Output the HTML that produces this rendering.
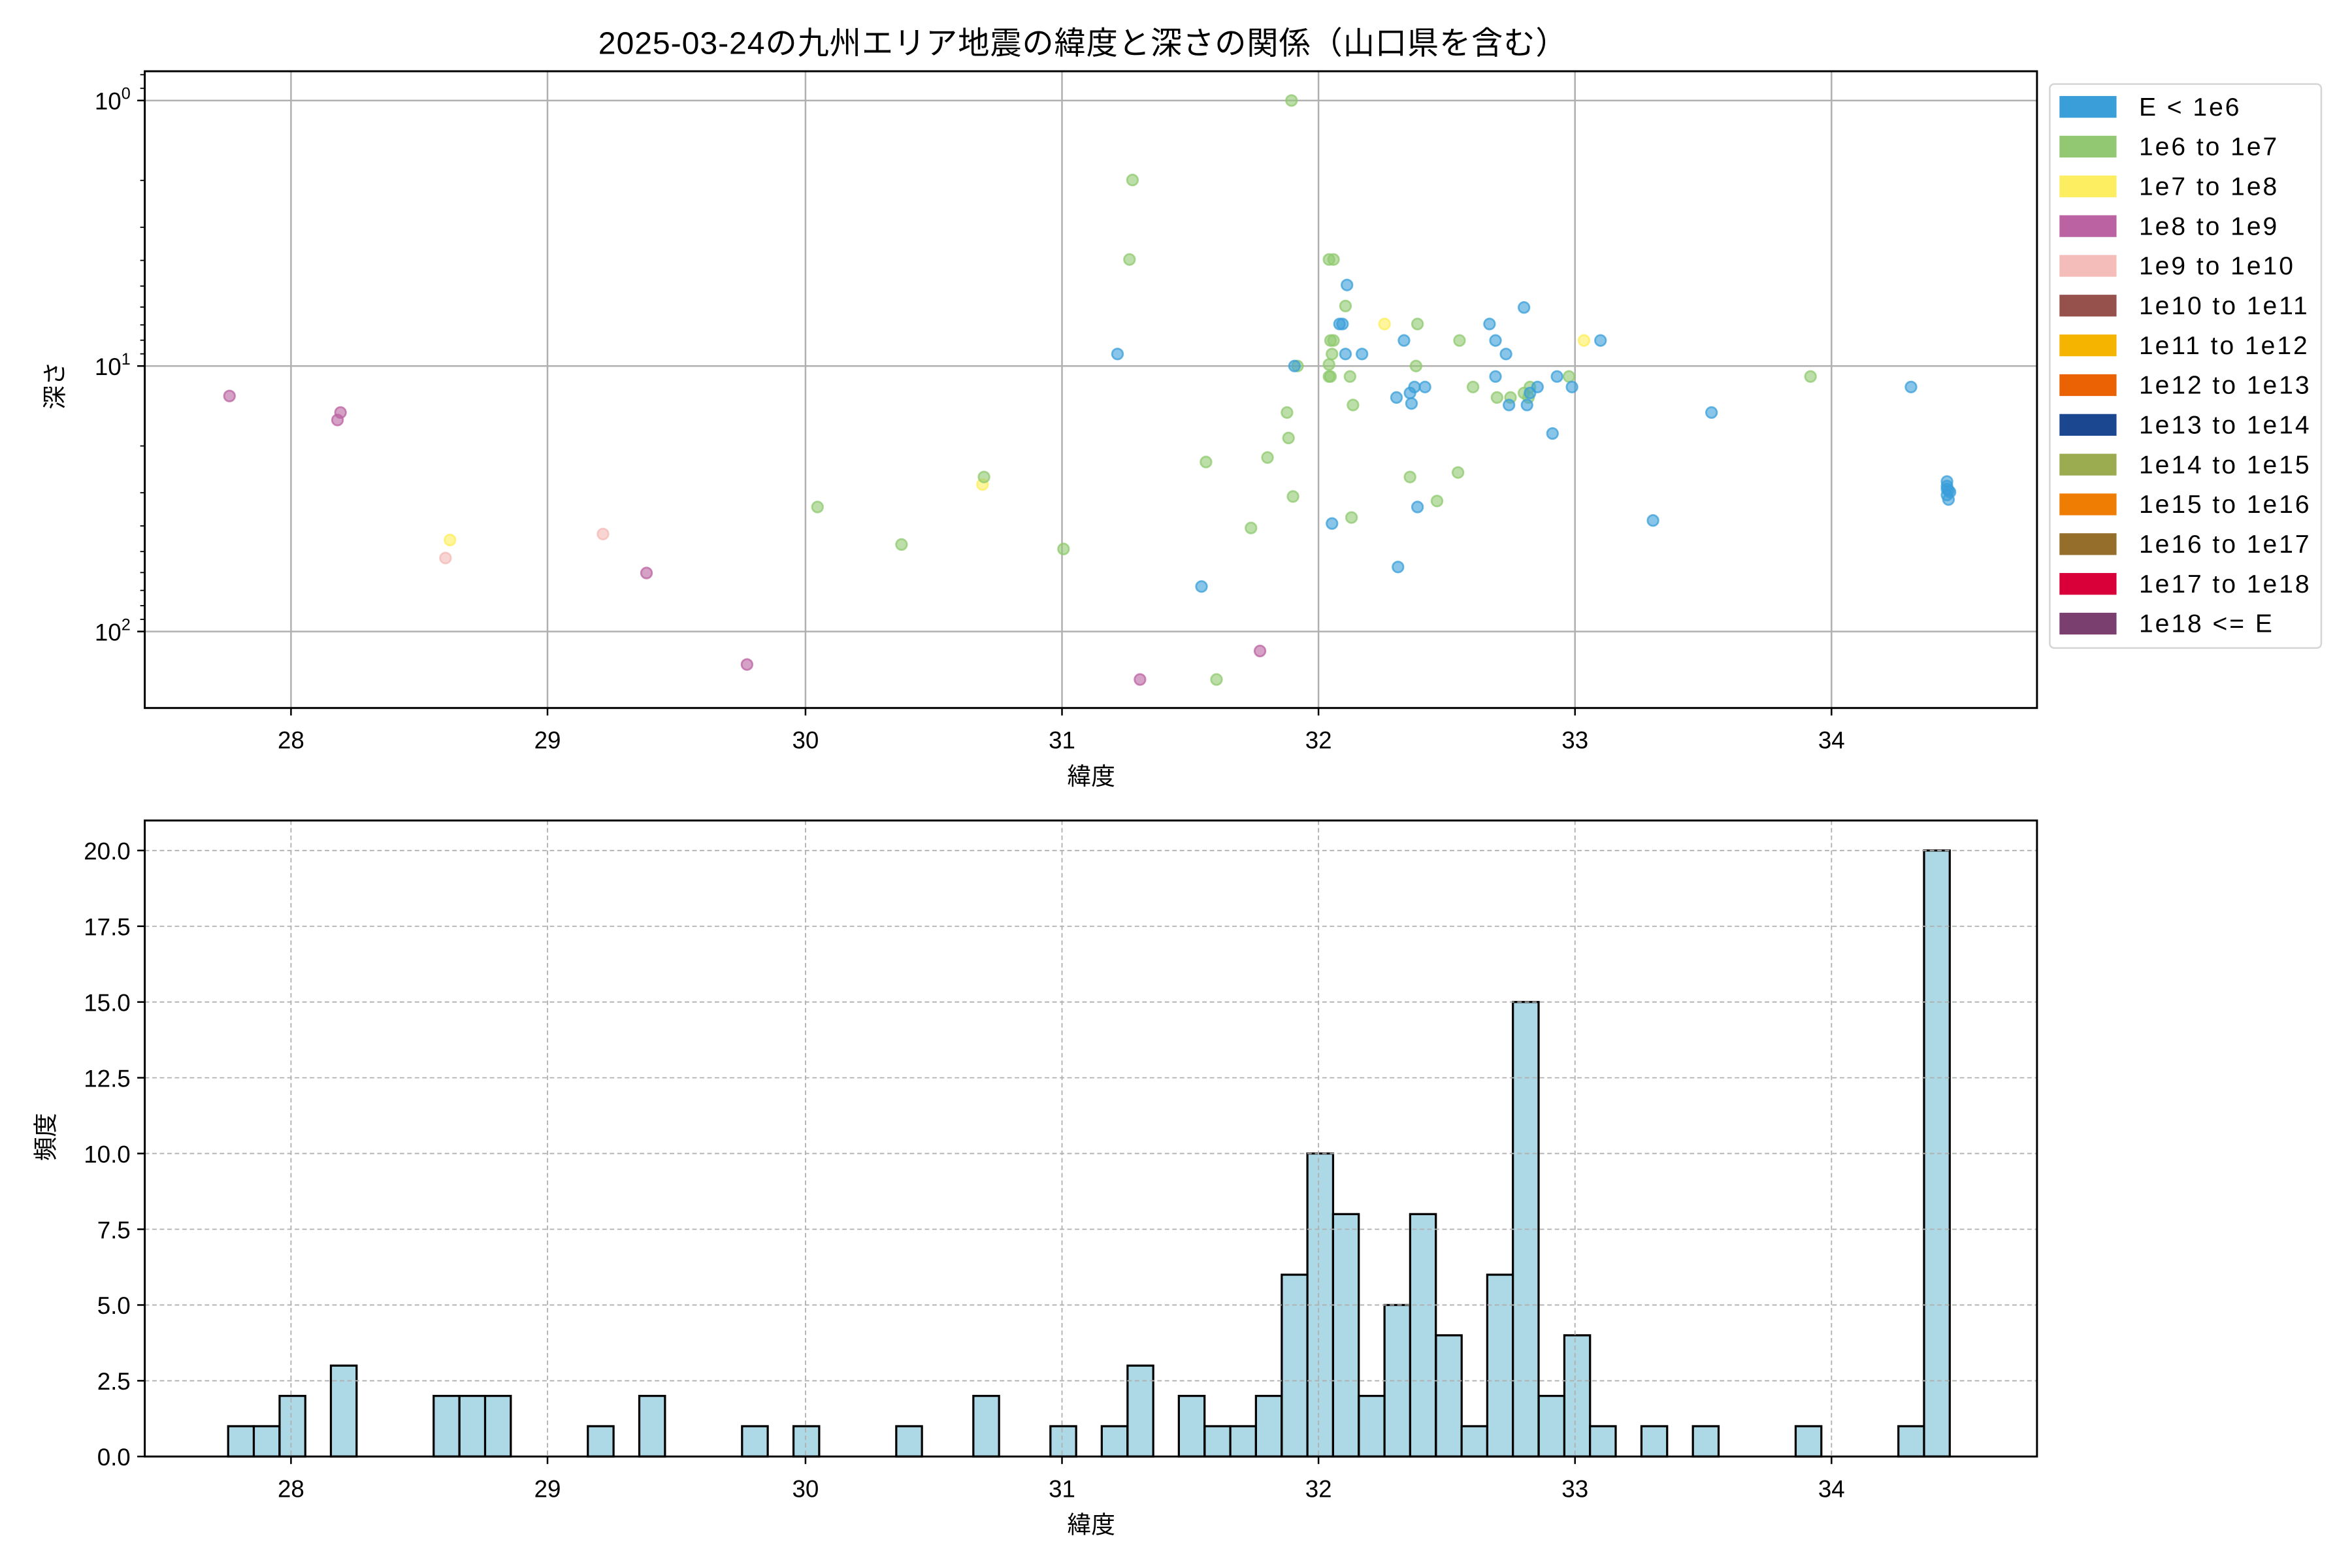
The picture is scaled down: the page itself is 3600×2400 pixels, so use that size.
<!DOCTYPE html>
<html><head><meta charset="utf-8"><style>html,body{margin:0;padding:0;background:#fff}svg{display:block}text{font-family:"Liberation Sans","Noto Sans CJK JP",sans-serif;fill:#000}</style></head><body>
<svg width="3600" height="2400" viewBox="0 0 1568 1045.33" xmlns="http://www.w3.org/2000/svg">
<rect width="1568" height="1045.33" fill="#fff"/>
<text x="722" y="36" font-size="21" text-anchor="middle" letter-spacing="0.4">2025-03-24の九州エリア地震の緯度と深さの関係（山口県を含む）</text>
<!-- top grid -->
<g stroke="#b0b0b0" stroke-width="1.1">
<line x1="194" y1="47.5" x2="194" y2="472"/><line x1="365" y1="47.5" x2="365" y2="472"/><line x1="537" y1="47.5" x2="537" y2="472"/><line x1="708" y1="47.5" x2="708" y2="472"/><line x1="879" y1="47.5" x2="879" y2="472"/><line x1="1050" y1="47.5" x2="1050" y2="472"/><line x1="1221" y1="47.5" x2="1221" y2="472"/>
<line x1="96.5" y1="67" x2="1358" y2="67"/><line x1="96.5" y1="244" x2="1358" y2="244"/><line x1="96.5" y1="421" x2="1358" y2="421"/>
</g>
<!-- points -->
<g stroke-width="1.2" fill-opacity="0.6" stroke-opacity="0.75">
<g fill="#bb63a2" stroke="#bb63a2"><circle cx="153" cy="264" r="3.6"/><circle cx="225" cy="280" r="3.6"/><circle cx="227" cy="275" r="3.6"/><circle cx="431" cy="382" r="3.6"/><circle cx="498" cy="443" r="3.6"/><circle cx="760" cy="453" r="3.6"/><circle cx="840" cy="434" r="3.6"/></g>
<g fill="#f4b9b5" stroke="#f4b9b5"><circle cx="297" cy="372" r="3.6"/><circle cx="402" cy="356" r="3.6"/></g>
<g fill="#fdee5a" stroke="#fdee5a"><circle cx="300" cy="360" r="3.6"/><circle cx="655" cy="323" r="3.6"/><circle cx="923" cy="216" r="3.6"/><circle cx="1056" cy="227" r="3.6"/></g>
<g fill="#8fc96f" stroke="#8fc96f"><circle cx="755" cy="120" r="3.6"/><circle cx="753" cy="173" r="3.6"/><circle cx="861" cy="67" r="3.6"/><circle cx="656" cy="318" r="3.6"/><circle cx="545" cy="338" r="3.6"/><circle cx="601" cy="363" r="3.6"/><circle cx="709" cy="366" r="3.6"/><circle cx="804" cy="308" r="3.6"/><circle cx="834" cy="352" r="3.6"/><circle cx="845" cy="305" r="3.6"/><circle cx="858" cy="275" r="3.6"/><circle cx="859" cy="292" r="3.6"/><circle cx="862" cy="331" r="3.6"/><circle cx="811" cy="453" r="3.6"/><circle cx="886" cy="173" r="3.6"/><circle cx="889" cy="173" r="3.6"/><circle cx="897" cy="204" r="3.6"/><circle cx="887" cy="227" r="3.6"/><circle cx="889" cy="227" r="3.6"/><circle cx="888" cy="236" r="3.6"/><circle cx="886" cy="243" r="3.6"/><circle cx="886" cy="251" r="3.6"/><circle cx="887" cy="251" r="3.6"/><circle cx="900" cy="251" r="3.6"/><circle cx="902" cy="270" r="3.6"/><circle cx="901" cy="345" r="3.6"/><circle cx="945" cy="216" r="3.6"/><circle cx="944" cy="244" r="3.6"/><circle cx="973" cy="227" r="3.6"/><circle cx="1007" cy="265" r="3.6"/><circle cx="998" cy="265" r="3.6"/><circle cx="982" cy="258" r="3.6"/><circle cx="958" cy="334" r="3.6"/><circle cx="940" cy="318" r="3.6"/><circle cx="972" cy="315" r="3.6"/><circle cx="1019" cy="265" r="3.6"/><circle cx="1020" cy="258" r="3.6"/><circle cx="1046" cy="251" r="3.6"/><circle cx="1207" cy="251" r="3.6"/><circle cx="865" cy="244" r="3.6"/><circle cx="1016" cy="262" r="3.6"/></g>
<g fill="#3a9fd9" stroke="#3a9fd9"><circle cx="745" cy="236" r="3.6"/><circle cx="898" cy="190" r="3.6"/><circle cx="893" cy="216" r="3.6"/><circle cx="895" cy="216" r="3.6"/><circle cx="897" cy="236" r="3.6"/><circle cx="908" cy="236" r="3.6"/><circle cx="936" cy="227" r="3.6"/><circle cx="931" cy="265" r="3.6"/><circle cx="941" cy="269" r="3.6"/><circle cx="940" cy="262" r="3.6"/><circle cx="943" cy="258" r="3.6"/><circle cx="950" cy="258" r="3.6"/><circle cx="945" cy="338" r="3.6"/><circle cx="932" cy="378" r="3.6"/><circle cx="888" cy="349" r="3.6"/><circle cx="801" cy="391" r="3.6"/><circle cx="993" cy="216" r="3.6"/><circle cx="997" cy="227" r="3.6"/><circle cx="1004" cy="236" r="3.6"/><circle cx="1016" cy="205" r="3.6"/><circle cx="997" cy="251" r="3.6"/><circle cx="1006" cy="270" r="3.6"/><circle cx="1018" cy="270" r="3.6"/><circle cx="1020" cy="262" r="3.6"/><circle cx="1025" cy="258" r="3.6"/><circle cx="1038" cy="251" r="3.6"/><circle cx="1048" cy="258" r="3.6"/><circle cx="1035" cy="289" r="3.6"/><circle cx="1067" cy="227" r="3.6"/><circle cx="1102" cy="347" r="3.6"/><circle cx="1141" cy="275" r="3.6"/><circle cx="1274" cy="258" r="3.6"/><circle cx="863" cy="244" r="3.6"/>
<circle cx="1298" cy="321" r="3.6"/><circle cx="1298" cy="324" r="3.6"/><circle cx="1299" cy="327" r="3.6"/><circle cx="1298" cy="330" r="3.6"/><circle cx="1300" cy="328" r="3.6"/><circle cx="1299" cy="333" r="3.6"/><circle cx="1298" cy="326" r="3.6"/></g>
</g>
<!-- top axes frame -->
<rect x="96.5" y="47.5" width="1261.5" height="424.5" fill="none" stroke="#000" stroke-width="1.3"/>
<g stroke="#000" stroke-width="1.1">
<line x1="194" y1="472" x2="194" y2="477"/><line x1="365" y1="472" x2="365" y2="477"/><line x1="537" y1="472" x2="537" y2="477"/><line x1="708" y1="472" x2="708" y2="477"/><line x1="879" y1="472" x2="879" y2="477"/><line x1="1050" y1="472" x2="1050" y2="477"/><line x1="1221" y1="472" x2="1221" y2="477"/>
<line x1="91.5" y1="67" x2="96.5" y2="67"/><line x1="91.5" y1="244" x2="96.5" y2="244"/><line x1="91.5" y1="421" x2="96.5" y2="421"/>
</g>
<g stroke="#000" stroke-width="0.8">
<line x1="93.5" y1="49.8" x2="96.5" y2="49.8"/><line x1="93.5" y1="58.9" x2="96.5" y2="58.9"/>
<line x1="93.5" y1="120.3" x2="96.5" y2="120.3"/><line x1="93.5" y1="151.5" x2="96.5" y2="151.5"/><line x1="93.5" y1="173.6" x2="96.5" y2="173.6"/><line x1="93.5" y1="190.7" x2="96.5" y2="190.7"/><line x1="93.5" y1="204.7" x2="96.5" y2="204.7"/><line x1="93.5" y1="216.6" x2="96.5" y2="216.6"/><line x1="93.5" y1="226.8" x2="96.5" y2="226.8"/><line x1="93.5" y1="235.9" x2="96.5" y2="235.9"/>
<line x1="93.5" y1="297.3" x2="96.5" y2="297.3"/><line x1="93.5" y1="328.5" x2="96.5" y2="328.5"/><line x1="93.5" y1="350.6" x2="96.5" y2="350.6"/><line x1="93.5" y1="367.7" x2="96.5" y2="367.7"/><line x1="93.5" y1="381.7" x2="96.5" y2="381.7"/><line x1="93.5" y1="393.6" x2="96.5" y2="393.6"/><line x1="93.5" y1="403.8" x2="96.5" y2="403.8"/><line x1="93.5" y1="412.9" x2="96.5" y2="412.9"/>
</g>
<g font-size="16" text-anchor="middle">
<text x="194" y="499">28</text><text x="365" y="499">29</text><text x="537" y="499">30</text><text x="708" y="499">31</text><text x="879" y="499">32</text><text x="1050" y="499">33</text><text x="1221" y="499">34</text>
</g>
<g font-size="16" text-anchor="end">
<text x="87" y="73">10<tspan font-size="11" dy="-7">0</tspan></text>
<text x="87" y="250">10<tspan font-size="11" dy="-7">1</tspan></text>
<text x="87" y="427">10<tspan font-size="11" dy="-7">2</tspan></text>
</g>
<text x="727.5" y="523" font-size="16" text-anchor="middle">緯度</text>
<text transform="translate(42,257) rotate(-90)" font-size="16" text-anchor="middle">深さ</text>
<!-- legend -->
<rect x="1366.5" y="56" width="181" height="376" rx="3" fill="#fff" stroke="#d5d5d5" stroke-width="1.1"/>
<g>
<rect x="1373" y="64" width="38" height="14.5" fill="#3a9fd9"/>
<rect x="1373" y="90.5" width="38" height="14.5" fill="#93c873"/>
<rect x="1373" y="117" width="38" height="14.5" fill="#fdee61"/>
<rect x="1373" y="143.5" width="38" height="14.5" fill="#bb63a2"/>
<rect x="1373" y="170" width="38" height="14.5" fill="#f4bdba"/>
<rect x="1373" y="196.5" width="38" height="14.5" fill="#96514d"/>
<rect x="1373" y="223" width="38" height="14.5" fill="#f5b400"/>
<rect x="1373" y="249.5" width="38" height="14.5" fill="#ea6204"/>
<rect x="1373" y="276" width="38" height="14.5" fill="#1b4791"/>
<rect x="1373" y="302.5" width="38" height="14.5" fill="#9bab50"/>
<rect x="1373" y="329" width="38" height="14.5" fill="#ef7d03"/>
<rect x="1373" y="355.5" width="38" height="14.5" fill="#956e2c"/>
<rect x="1373" y="382" width="38" height="14.5" fill="#d9003a"/>
<rect x="1373" y="408.5" width="38" height="14.5" fill="#7a3f6f"/>
</g>
<g font-size="17" letter-spacing="1.3">
<text x="1426" y="77">E &lt; 1e6</text><text x="1426" y="103.5">1e6 to 1e7</text><text x="1426" y="130">1e7 to 1e8</text><text x="1426" y="156.5">1e8 to 1e9</text><text x="1426" y="183">1e9 to 1e10</text><text x="1426" y="209.5">1e10 to 1e11</text><text x="1426" y="236">1e11 to 1e12</text><text x="1426" y="262.5">1e12 to 1e13</text><text x="1426" y="289">1e13 to 1e14</text><text x="1426" y="315.5">1e14 to 1e15</text><text x="1426" y="342">1e15 to 1e16</text><text x="1426" y="368.5">1e16 to 1e17</text><text x="1426" y="395">1e17 to 1e18</text><text x="1426" y="421.5">1e18 &lt;= E</text>
</g>
<!-- histogram bars -->
<g fill="#add8e6" stroke="#000" stroke-width="1.4">
<rect x="152.1" y="950.8" width="17.13" height="20.2"/><rect x="169.2" y="950.8" width="17.13" height="20.2"/><rect x="186.4" y="930.6" width="17.13" height="40.4"/><rect x="220.6" y="910.4" width="17.13" height="60.6"/>
<rect x="289.1" y="930.6" width="17.13" height="40.4"/><rect x="306.3" y="930.6" width="17.13" height="40.4"/><rect x="323.4" y="930.6" width="17.13" height="40.4"/>
<rect x="391.9" y="950.8" width="17.13" height="20.2"/><rect x="426.2" y="930.6" width="17.13" height="40.4"/><rect x="494.7" y="950.8" width="17.13" height="20.2"/><rect x="529.0" y="950.8" width="17.13" height="20.2"/><rect x="597.5" y="950.8" width="17.13" height="20.2"/><rect x="648.9" y="930.6" width="17.13" height="40.4"/>
<rect x="700.3" y="950.8" width="17.13" height="20.2"/><rect x="734.5" y="950.8" width="17.13" height="20.2"/><rect x="751.7" y="910.4" width="17.13" height="60.6"/>
<rect x="785.9" y="930.6" width="17.13" height="40.4"/><rect x="803.1" y="950.8" width="17.13" height="20.2"/><rect x="820.2" y="950.8" width="17.13" height="20.2"/><rect x="837.3" y="930.6" width="17.13" height="40.4"/>
<rect x="854.5" y="849.8" width="17.13" height="121.2"/><rect x="871.6" y="769" width="17.13" height="202"/><rect x="888.7" y="809.4" width="17.13" height="161.6"/><rect x="905.9" y="930.6" width="17.13" height="40.4"/>
<rect x="923.0" y="870" width="17.13" height="101"/><rect x="940.1" y="809.4" width="17.13" height="161.6"/><rect x="957.3" y="890.2" width="17.13" height="80.8"/><rect x="974.4" y="950.8" width="17.13" height="20.2"/>
<rect x="991.5" y="849.8" width="17.13" height="121.2"/><rect x="1008.6" y="668" width="17.13" height="303"/><rect x="1025.8" y="930.6" width="17.13" height="40.4"/><rect x="1042.9" y="890.2" width="17.13" height="80.8"/><rect x="1060.0" y="950.8" width="17.13" height="20.2"/>
<rect x="1094.3" y="950.8" width="17.13" height="20.2"/><rect x="1128.6" y="950.8" width="17.13" height="20.2"/><rect x="1197.1" y="950.8" width="17.13" height="20.2"/><rect x="1265.6" y="950.8" width="17.13" height="20.2"/><rect x="1282.7" y="567" width="17.13" height="404"/>
</g>
<!-- histogram grid -->
<g stroke="#b0b0b0" stroke-width="0.8" stroke-dasharray="3,2">
<line x1="194" y1="547" x2="194" y2="971"/><line x1="365" y1="547" x2="365" y2="971"/><line x1="537" y1="547" x2="537" y2="971"/><line x1="708" y1="547" x2="708" y2="971"/><line x1="879" y1="547" x2="879" y2="971"/><line x1="1050" y1="547" x2="1050" y2="971"/><line x1="1221" y1="547" x2="1221" y2="971"/>
<line x1="96.5" y1="567" x2="1358" y2="567"/><line x1="96.5" y1="617.5" x2="1358" y2="617.5"/><line x1="96.5" y1="668" x2="1358" y2="668"/><line x1="96.5" y1="718.5" x2="1358" y2="718.5"/><line x1="96.5" y1="769" x2="1358" y2="769"/><line x1="96.5" y1="819.5" x2="1358" y2="819.5"/><line x1="96.5" y1="870" x2="1358" y2="870"/><line x1="96.5" y1="920.5" x2="1358" y2="920.5"/>
</g>
<rect x="96.5" y="547" width="1261.5" height="424" fill="none" stroke="#000" stroke-width="1.3"/>
<g stroke="#000" stroke-width="1.1">
<line x1="194" y1="971" x2="194" y2="976"/><line x1="365" y1="971" x2="365" y2="976"/><line x1="537" y1="971" x2="537" y2="976"/><line x1="708" y1="971" x2="708" y2="976"/><line x1="879" y1="971" x2="879" y2="976"/><line x1="1050" y1="971" x2="1050" y2="976"/><line x1="1221" y1="971" x2="1221" y2="976"/>
<line x1="91.5" y1="567" x2="96.5" y2="567"/><line x1="91.5" y1="617.5" x2="96.5" y2="617.5"/><line x1="91.5" y1="668" x2="96.5" y2="668"/><line x1="91.5" y1="718.5" x2="96.5" y2="718.5"/><line x1="91.5" y1="769" x2="96.5" y2="769"/><line x1="91.5" y1="819.5" x2="96.5" y2="819.5"/><line x1="91.5" y1="870" x2="96.5" y2="870"/><line x1="91.5" y1="920.5" x2="96.5" y2="920.5"/><line x1="91.5" y1="971" x2="96.5" y2="971"/>
</g>
<g font-size="16" text-anchor="middle">
<text x="194" y="998">28</text><text x="365" y="998">29</text><text x="537" y="998">30</text><text x="708" y="998">31</text><text x="879" y="998">32</text><text x="1050" y="998">33</text><text x="1221" y="998">34</text>
</g>
<g font-size="16" text-anchor="end">
<text x="87" y="573">20.0</text><text x="87" y="623.5">17.5</text><text x="87" y="674">15.0</text><text x="87" y="724.5">12.5</text><text x="87" y="775">10.0</text><text x="87" y="825.5">7.5</text><text x="87" y="876">5.0</text><text x="87" y="926.5">2.5</text><text x="87" y="977">0.0</text>
</g>
<text x="727.5" y="1022" font-size="16" text-anchor="middle">緯度</text>
<text transform="translate(36,758) rotate(-90)" font-size="16" text-anchor="middle">頻度</text>
</svg>
</body></html>
